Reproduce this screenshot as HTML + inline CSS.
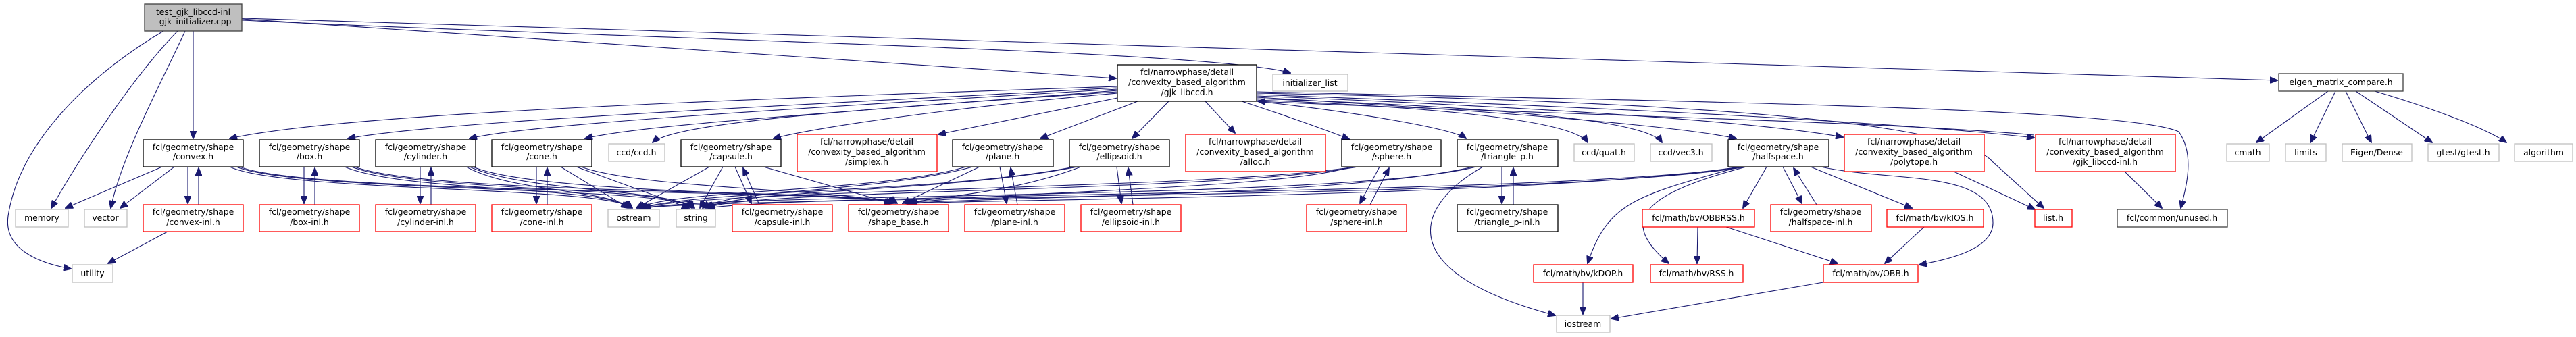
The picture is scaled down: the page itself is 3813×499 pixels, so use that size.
<!DOCTYPE html>
<html><head><meta charset="utf-8"><style>
html,body{margin:0;padding:0;background:#fff;width:3813px;height:499px;overflow:hidden}
svg{display:block}
text{font-family:"DejaVu Sans","Liberation Sans",sans-serif;font-size:12.4px;fill:#000;text-anchor:middle}
.k{fill:#fff;stroke:#000;stroke-width:1.3}
.r{fill:#fff;stroke:#ff0000;stroke-width:1.3}
.g{fill:#fff;stroke:#bfbfbf;stroke-width:1.3}
.e path{fill:none;stroke:#191970;stroke-width:1.1;marker-end:url(#a)}
</style></head><body>
<svg width="3813" height="499" viewBox="0 0 3813 499">
<defs><marker id="a" markerUnits="userSpaceOnUse" markerWidth="12" markerHeight="10" refX="11" refY="5" orient="auto"><path d="M0,0 L12,5 L0,10 z" fill="#191970" stroke="#191970"/></marker></defs>
<g class="e">
<path d="M242,46 C150,100 30,200 12,320 C5,370 60,390 105,398"/>
<path d="M263,46 C200,110 120,230 76,308"/>
<path d="M274,46 C240,120 180,230 164,308"/>
<path d="M286,46 L286,205"/>
<path d="M358,28 L1652,116"/>
<path d="M358,30 C1000,60 1800,75 1910,108"/>
<path d="M358,27 L3371,119"/>
<path d="M1654,128 C1000,150 500,170 340,205"/>
<path d="M1654,130 C1100,160 650,180 515,205"/>
<path d="M1654,132 C1100,165 780,185 695,205"/>
<path d="M1654,134 C1200,170 950,185 866,205"/>
<path d="M1654,136 C1300,160 1000,180 966,211"/>
<path d="M1654,138 C1400,160 1200,190 1145,205"/>
<path d="M1654,145 L1389,199"/>
<path d="M1684,150 L1540,205"/>
<path d="M1730,150 L1676,205"/>
<path d="M1784,150 L1828,197"/>
<path d="M1838,150 C1900,170 1970,195 1997,206"/>
<path d="M1860,150 C2000,165 2150,190 2170,205"/>
<path d="M1860,148 C2150,160 2330,180 2350,211"/>
<path d="M1860,146 C2250,160 2440,180 2460,211"/>
<path d="M1860,144 C2300,170 2500,190 2570,205"/>
<path d="M1860,142 C2300,160 2600,180 2728,203"/>
<path d="M1860,140 C2400,160 2800,180 3011,204"/>
<path d="M1860,138 C2500,150 2900,180 2950,240 L3025,308"/>
<path d="M1860,136 C2500,150 3150,160 3225,195 C3250,230 3235,280 3228,308"/>
<path d="M3011,200 C2800,180 2300,170 1862,150"/>
<path d="M340,247 C420,285 900,275 936,308"/>
<path d="M350,247 C440,285 1000,275 1028,308"/>
<path d="M355,247 C460,290 1300,280 1328,301"/>
<path d="M510,247 C600,285 900,275 934,308"/>
<path d="M520,247 C620,285 1000,275 1026,308"/>
<path d="M525,247 C640,290 1300,280 1326,301"/>
<path d="M690,247 C760,285 900,280 932,308"/>
<path d="M695,247 C780,285 1000,280 1024,308"/>
<path d="M700,247 C800,290 1300,285 1324,301"/>
<path d="M830,247 L930,308"/>
<path d="M853,247 L1020,308"/>
<path d="M860,247 C950,280 1250,280 1322,301"/>
<path d="M1050,247 L942,308"/>
<path d="M1070,247 L1036,308"/>
<path d="M1130,247 L1320,301"/>
<path d="M1088,247 L1112,301"/>
<path d="M1124,303 L1100,249"/>
<path d="M1450,247 L1336,301"/>
<path d="M1430,247 C1300,285 1000,280 944,308"/>
<path d="M1440,247 C1300,285 1080,280 1040,308"/>
<path d="M1600,247 C1500,285 1400,290 1340,301"/>
<path d="M1590,247 C1400,285 1050,280 946,308"/>
<path d="M1595,247 C1400,285 1100,280 1044,308"/>
<path d="M2000,247 C1900,280 1450,285 1342,301"/>
<path d="M2005,247 C1800,280 1050,280 948,308"/>
<path d="M2010,247 C1800,285 1100,280 1046,308"/>
<path d="M2180,247 C2000,290 1500,290 1344,301"/>
<path d="M2185,247 C2000,295 1100,285 950,308"/>
<path d="M2575,247 C2300,290 1500,295 1346,301"/>
<path d="M2580,247 C2300,290 1200,285 1048,308"/>
<path d="M2585,247 C2300,295 1100,290 952,308"/>
<path d="M278,247 L278,301"/><path d="M294,303 L294,249"/>
<path d="M450,247 L450,301"/><path d="M466,303 L466,249"/>
<path d="M622,247 L622,301"/><path d="M638,303 L638,249"/>
<path d="M794,247 L794,301"/><path d="M810,303 L810,249"/>
<path d="M1480,247 L1490,301"/><path d="M1506,303 L1496,249"/>
<path d="M1653,247 L1660,301"/><path d="M1677,303 L1670,249"/>
<path d="M2042,247 L2013,301"/><path d="M2028,303 L2056,249"/>
<path d="M2223,247 L2223,301"/><path d="M2240,303 L2240,249"/>
<path d="M2639,247 L2667,301"/><path d="M2689,303 L2655,249"/>
<path d="M240,247 L97,308"/>
<path d="M258,247 L178,308"/>
<path d="M248,343 L160,390"/>
<path d="M2615,247 L2580,308"/>
<path d="M2680,247 L2830,308"/>
<path d="M2695,247 C2800,270 2950,250 2950,330 C2950,370 2880,385 2841,392"/>
<path d="M2585,247 C2420,290 2400,330 2470,390"/>
<path d="M2575,247 C2420,290 2380,300 2350,390"/>
<path d="M2513,336 L2512,390"/>
<path d="M2555,336 L2720,390"/>
<path d="M2848,336 L2790,390"/>
<path d="M2343,418 L2343,465"/>
<path d="M2699,418 L2385,472"/>
<path d="M2195,247 C2100,300 2050,400 2302,467"/>
<path d="M2892,254 L3012,310"/>
<path d="M3145,254 L3200,308"/>
<path d="M3446,135 L3340,211"/>
<path d="M3457,135 L3420,211"/>
<path d="M3472,135 L3510,211"/>
<path d="M3487,135 L3600,211"/>
<path d="M3515,135 C3600,160 3680,190 3710,211"/>
</g>
<rect x="214" y="6" width="144" height="40" fill="#bfbfbf" stroke="#404040" stroke-width="1.3"/>
<text x="286" y="22">test_gjk_libccd-inl</text><text x="286" y="36">_gjk_initializer.cpp</text>
<rect class="k" x="1654" y="96" width="206" height="54"/>
<text x="1757" y="111">fcl/narrowphase/detail</text><text x="1757" y="126">/convexity_based_algorithm</text><text x="1757" y="141">/gjk_libccd.h</text>
<rect class="g" x="1884" y="110" width="111" height="25"/><text x="1939" y="127">initializer_list</text>
<rect x="3373" y="109" width="184" height="26" fill="#fff" stroke="#404040" stroke-width="1.3"/><text x="3465" y="126">eigen_matrix_compare.h</text>
<rect class="k" x="212" y="207" width="148" height="40"/><text x="286" y="222">fcl/geometry/shape</text><text x="286" y="236">/convex.h</text>
<rect class="k" x="384" y="207" width="148" height="40"/><text x="458" y="222">fcl/geometry/shape</text><text x="458" y="236">/box.h</text>
<rect class="k" x="556" y="207" width="148" height="40"/><text x="630" y="222">fcl/geometry/shape</text><text x="630" y="236">/cylinder.h</text>
<rect class="k" x="728" y="207" width="148" height="40"/><text x="802" y="222">fcl/geometry/shape</text><text x="802" y="236">/cone.h</text>
<rect class="g" x="901" y="213" width="83" height="26"/><text x="942" y="230">ccd/ccd.h</text>
<rect class="k" x="1008" y="207" width="148" height="40"/><text x="1082" y="222">fcl/geometry/shape</text><text x="1082" y="236">/capsule.h</text>
<rect class="r" x="1180" y="199" width="207" height="55"/><text x="1283" y="214">fcl/narrowphase/detail</text><text x="1283" y="229">/convexity_based_algorithm</text><text x="1283" y="244">/simplex.h</text>
<rect class="k" x="1410" y="207" width="149" height="40"/><text x="1484" y="222">fcl/geometry/shape</text><text x="1484" y="236">/plane.h</text>
<rect class="k" x="1583" y="207" width="148" height="40"/><text x="1657" y="222">fcl/geometry/shape</text><text x="1657" y="236">/ellipsoid.h</text>
<rect class="r" x="1755" y="199" width="207" height="55"/><text x="1858" y="214">fcl/narrowphase/detail</text><text x="1858" y="229">/convexity_based_algorithm</text><text x="1858" y="244">/alloc.h</text>
<rect class="k" x="1986" y="207" width="147" height="40"/><text x="2060" y="222">fcl/geometry/shape</text><text x="2060" y="236">/sphere.h</text>
<rect class="k" x="2157" y="207" width="149" height="40"/><text x="2231" y="222">fcl/geometry/shape</text><text x="2231" y="236">/triangle_p.h</text>
<rect class="g" x="2330" y="213" width="89" height="26"/><text x="2374" y="230">ccd/quat.h</text>
<rect class="g" x="2443" y="213" width="91" height="26"/><text x="2488" y="230">ccd/vec3.h</text>
<rect class="k" x="2558" y="207" width="149" height="40"/><text x="2632" y="222">fcl/geometry/shape</text><text x="2632" y="236">/halfspace.h</text>
<rect class="r" x="2730" y="199" width="207" height="55"/><text x="2833" y="214">fcl/narrowphase/detail</text><text x="2833" y="229">/convexity_based_algorithm</text><text x="2833" y="244">/polytope.h</text>
<rect class="r" x="3013" y="199" width="207" height="55"/><text x="3116" y="214">fcl/narrowphase/detail</text><text x="3116" y="229">/convexity_based_algorithm</text><text x="3116" y="244">/gjk_libccd-inl.h</text>
<rect class="g" x="3296" y="213" width="63" height="26"/><text x="3327" y="230">cmath</text>
<rect class="g" x="3383" y="213" width="60" height="26"/><text x="3413" y="230">limits</text>
<rect class="g" x="3467" y="213" width="103" height="26"/><text x="3518" y="230">Eigen/Dense</text>
<rect class="g" x="3594" y="213" width="105" height="26"/><text x="3646" y="230">gtest/gtest.h</text>
<rect class="g" x="3722" y="213" width="86" height="26"/><text x="3765" y="230">algorithm</text>
<rect class="g" x="23" y="310" width="78" height="26"/><text x="62" y="327">memory</text>
<rect class="g" x="125" y="310" width="63" height="26"/><text x="156" y="327">vector</text>
<rect class="r" x="212" y="303" width="148" height="40"/><text x="286" y="318">fcl/geometry/shape</text><text x="286" y="333">/convex-inl.h</text>
<rect class="r" x="384" y="303" width="148" height="40"/><text x="458" y="318">fcl/geometry/shape</text><text x="458" y="333">/box-inl.h</text>
<rect class="r" x="556" y="303" width="148" height="40"/><text x="630" y="318">fcl/geometry/shape</text><text x="630" y="333">/cylinder-inl.h</text>
<rect class="r" x="728" y="303" width="148" height="40"/><text x="802" y="318">fcl/geometry/shape</text><text x="802" y="333">/cone-inl.h</text>
<rect class="g" x="900" y="310" width="76" height="26"/><text x="938" y="327">ostream</text>
<rect class="g" x="1001" y="310" width="58" height="26"/><text x="1030" y="327">string</text>
<rect class="r" x="1084" y="303" width="148" height="40"/><text x="1158" y="318">fcl/geometry/shape</text><text x="1158" y="333">/capsule-inl.h</text>
<rect class="r" x="1256" y="303" width="148" height="40"/><text x="1330" y="318">fcl/geometry/shape</text><text x="1330" y="333">/shape_base.h</text>
<rect class="r" x="1428" y="303" width="148" height="40"/><text x="1502" y="318">fcl/geometry/shape</text><text x="1502" y="333">/plane-inl.h</text>
<rect class="r" x="1600" y="303" width="148" height="40"/><text x="1674" y="318">fcl/geometry/shape</text><text x="1674" y="333">/ellipsoid-inl.h</text>
<rect class="r" x="1934" y="303" width="148" height="40"/><text x="2008" y="318">fcl/geometry/shape</text><text x="2008" y="333">/sphere-inl.h</text>
<rect class="k" x="2157" y="303" width="149" height="40"/><text x="2231" y="318">fcl/geometry/shape</text><text x="2231" y="333">/triangle_p-inl.h</text>
<rect class="r" x="2431" y="310" width="166" height="26"/><text x="2514" y="327">fcl/math/bv/OBBRSS.h</text>
<rect class="r" x="2621" y="303" width="149" height="40"/><text x="2695" y="318">fcl/geometry/shape</text><text x="2695" y="333">/halfspace-inl.h</text>
<rect class="r" x="2793" y="310" width="143" height="26"/><text x="2864" y="327">fcl/math/bv/kIOS.h</text>
<rect class="r" x="3012" y="310" width="55" height="26"/><text x="3039" y="327">list.h</text>
<rect x="3134" y="310" width="163" height="26" fill="#fff" stroke="#404040" stroke-width="1.3"/><text x="3215" y="327">fcl/common/unused.h</text>
<rect class="g" x="107" y="392" width="60" height="26"/><text x="137" y="409">utility</text>
<rect class="r" x="2270" y="392" width="147" height="26"/><text x="2343" y="409">fcl/math/bv/kDOP.h</text>
<rect class="r" x="2443" y="392" width="137" height="26"/><text x="2511" y="409">fcl/math/bv/RSS.h</text>
<rect class="r" x="2699" y="392" width="140" height="26"/><text x="2769" y="409">fcl/math/bv/OBB.h</text>
<rect class="g" x="2304" y="467" width="79" height="25"/><text x="2343" y="484">iostream</text>
</svg>
</body></html>
